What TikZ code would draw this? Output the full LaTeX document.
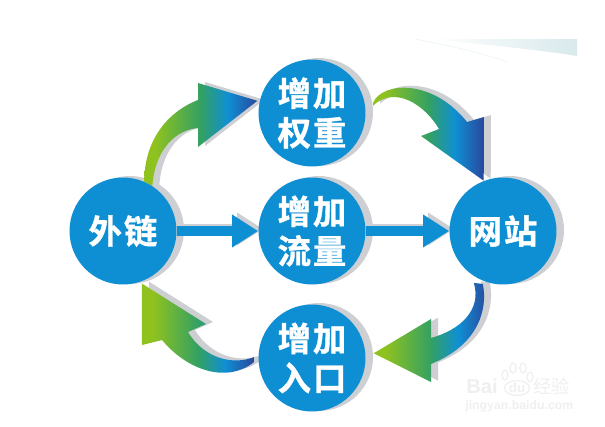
\documentclass[tikz,border=0pt]{standalone}
\usepackage{fontspec}
\usepackage{tikz}
\usetikzlibrary{arrows.meta}
\usetikzlibrary{backgrounds}
\usetikzlibrary{shapes.geometric}
\newfontfamily\cjk[LetterSpace=6,BoldFont={* Bold},BoldFeatures={FakeBold=1.2}]{Noto Sans CJK SC}
\newfontfamily\markcjk{Noto Sans CJK SC}
\setmainfont{Liberation Sans}
\definecolor{hubblue}{HTML}{0F8FD3}
\definecolor{rimgray}{HTML}{CDCFD2}
\definecolor{markgray}{HTML}{EFEFEF}
\definecolor{swoosh}{HTML}{D8E9EC}
\pgfdeclarehorizontalshading{flowgrad}{100bp}{
rgb(0bp)=(0.56,0.76,0.12);
rgb(30bp)=(0.56,0.76,0.12);
rgb(50bp)=(0.20,0.63,0.39);
rgb(62bp)=(0.06,0.56,0.83);
rgb(75bp)=(0.16,0.28,0.61);
rgb(100bp)=(0.16,0.28,0.61)}
\tikzset{
hub/.style={ % the blue discs
circle,
fill=hubblue,
text=white,
minimum size=2.14cm,
inner sep=0pt,
align=center,
font=\cjk\bfseries\fontsize{19}{22.5}\selectfont},
flowline/.style={ % straight connectors
draw=hubblue,
line width=0.19cm,
-{Triangle[length=0.52cm,width=0.62cm]}},
flowshadow/.style={
draw=rimgray,
line width=0.19cm,
-{Triangle[length=0.52cm,width=0.62cm]},
transform canvas={shift={(5,-2)}}},
markpaw/.style={draw=markgray,line width=0.7pt},
marktext/.style={text=markgray,inner sep=0pt}}
\newcommand{\flowarrow}[2]{ % curved connector, #1 is the shift of its shadow
\fill[rimgray,transform canvas={shift={#1}}] #2;
\shade[shading=flowgrad] #2;}
\begin{document}
\begin{tikzpicture}[x=0.02cm,y=-0.02cm]
\useasboundingbox (0,0) rectangle (605,426);
\node[hub] (wailian) at (123,231) {外链};
\node[hub] (quanzhong) at (312,113) {增加\\权重};
\node[hub] (liuliang) at (312,231) {增加\\流量};
\node[hub] (wangzhan) at (503,231) {网站};
\node[hub] (rukou) at (312,358) {增加\\入口};
\begin{scope}[on background layer]
% top right swoosh
\shade[left color=white,right color=swoosh] (430,39) -- (577,39) -- (577,56) .. controls (540,50) and (480,44) .. (430,39) -- cycle;
\draw[swoosh!50,line width=0.4pt] (415,39) .. controls (450,46) and (480,52) .. (507,62);
% rims
\fill[rimgray] ([shift={(7,-1)}]wailian.center) circle (54);
\fill[rimgray] ([shift={(7,-1)}]quanzhong.center) circle (54);
\fill[rimgray] ([shift={(7,-1)}]liuliang.center) circle (54);
\fill[rimgray] ([shift={(7,-1)}]wangzhan.center) circle (54);
\fill[rimgray] ([shift={(7,-1)}]rukou.center) circle (54);
% connectors
\flowarrow{(7,-1)}{(wailian.67) .. controls (145,135) and (172,110) .. (198,100) -- (198,83) -- ([shift={(-2,-1)}]quanzhong.168) -- (198,147) -- (198,128) .. controls (175,130) and (155,150) .. (wailian.57) -- cycle}
\flowarrow{(7,-2)}{([shift={(8,-2)}]quanzhong.9) .. controls (382,82) and (432,78) .. (467,122) -- (484,117) -- (wangzhan.111) -- (421,136) -- (439,129) .. controls (425,105) and (395,85) .. ([shift={(8,1)}]quanzhong.9) -- cycle}
\flowarrow{(7,-1.5)}{([shift={(0,3)}]wangzhan.-112) .. controls (488,310) and (478,345) .. (431,364) -- (431,382) -- ([shift={(8,0)}]rukou.5) -- (431,319) -- (431,338) .. controls (460,330) and (482,310) .. ([shift={(-9,2)}]wangzhan.-112) -- cycle}
\flowarrow{(7,-2)}{([shift={(-4,-1)}]rukou.180) .. controls (235,365) and (205,360) .. (188,332) -- (206,324) -- ([shift={(0.5,2)}]wailian.-70) -- (142,345) -- (162,340) .. controls (185,368) and (225,385) .. ([shift={(-4,4)}]rukou.180) -- cycle}
\draw[flowshadow] (wailian) -- (liuliang);
\draw[flowshadow] (liuliang) -- (wangzhan);
\draw[flowline] (wailian) -- (liuliang);
\draw[flowline] (liuliang) -- (wangzhan);
\end{scope}
% watermark
\node[marktext,anchor=west,font=\bfseries\fontsize{11.5}{12}\selectfont] (markbai) at (466,386) {Bai};
\node[markpaw,ellipse,minimum width=0.5cm,minimum height=0.3cm,inner sep=0pt,text=markgray,font=\bfseries\fontsize{7.5}{8}\selectfont] (markdu) at (517,388) {du};
\draw[markpaw] (505,375) ellipse (3 and 5);
\draw[markpaw] (513,368) ellipse (3 and 5);
\draw[markpaw] (523,368) ellipse (3 and 5);
\draw[markpaw] (530,377) ellipse (3 and 5);
\node[marktext,anchor=west,font=\markcjk\fontsize{10.5}{11}\selectfont] (markjy) at (533,386) {经验};
\node[marktext,anchor=west,font=\bfseries\fontsize{7}{8}\selectfont] (markurl) at (465,406) {jingyan.baidu.com};
\end{tikzpicture}
\end{document}
